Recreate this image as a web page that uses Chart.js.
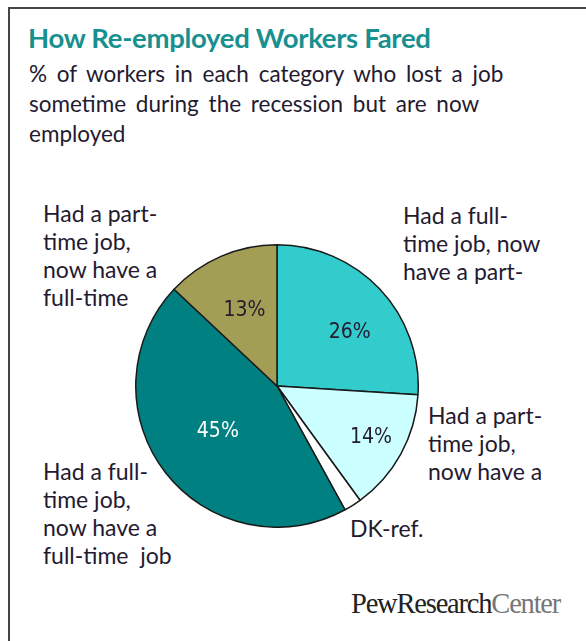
<!DOCTYPE html>
<html>
<head>
<meta charset="utf-8">
<script src="https://cdn.jsdelivr.net/npm/chart.js@4"></script>
<style>
  html, body { margin: 0; padding: 0; background: #fff; }
  body { width: 586px; height: 641px; position: relative; overflow: hidden;
         font-family: Lato, "Open Sans", sans-serif; color: #241a30; }
  .frame { position: absolute; left: 8px; top: 7px; width: 600px; height: 660px;
           border-left: 2px solid #444; border-top: 2px solid #444; }
  .title { position: absolute; left: 28px; top: 21px; font-size: 27.5px; font-weight: bold;
           color: #17908f; letter-spacing: -0.3px; }
  .subtitle { position: absolute; left: 29px; top: 59px; font-size: 22.5px;
              line-height: 30px; word-spacing: 4px; white-space: nowrap; }
  .lbl { position: absolute; font-size: 23px; line-height: 28px; white-space: pre; }
  .logo { position: absolute; left: 351px; top: 588px; font-family: "Liberation Serif", "DejaVu Serif", serif;
          font-size: 28.5px; letter-spacing: -1.2px; color: #222; }
  .logo span { color: #777; }
  #pie { position: absolute; left: 135px; top: 244px; }
</style>
</head>
<body>
<div class="frame"></div>
<div class="title">How Re-employed Workers Fared</div>
<div class="subtitle">% of workers in each category who lost a job<br>sometime during the recession but are now<br>employed</div>
<div id="labels"></div>
<div class="logo">PewResearch<span>Center</span></div>
<canvas id="pie" width="284" height="284"></canvas>

<script>
// categories clockwise from 12 o'clock
const categories = [
    'Had a full-\ntime job, now\nhave a part-',
    'Had a part-\ntime job,\nnow have a',
    'DK-ref.',
    'Had a full-\ntime job,\nnow have a\nfull-time  job',
    'Had a part-\ntime job,\nnow have a\nfull-time'
];
const shares = [26, 14, 2, 45, 13];
const showValue = [true, true, false, true, true];

const SLICE_COLORS = ['#33cccc', '#ccffff', '#ffffff', '#008080', '#a39e55'];
const VALUE_COLORS = ['#241a30', '#241a30', '#241a30', '#ffffff', '#241a30'];
const VALUE_RADIUS = [0.64, 0.76, 0.5, 0.53, 0.58];   // fraction of radius
const VALUE_TURN = [0.12, 0, 0, 0, 0];                  // extra angle, radians
const LABEL_POS = [[403, 201], [428, 401], [350, 514], [43, 457], [43, 199]];

// category labels around the pie
const holder = document.getElementById('labels');
categories.forEach((text, i) => {
    const d = document.createElement('div');
    d.className = 'lbl';
    d.style.left = LABEL_POS[i][0] + 'px';
    d.style.top = LABEL_POS[i][1] + 'px';
    d.textContent = text;
    holder.appendChild(d);
});

// percentages inside the slices
const valueLabels = {
    id: 'valueLabels',
    afterDatasetsDraw(chart) {
        const ctx = chart.ctx;
        const meta = chart.getDatasetMeta(0);
        ctx.save();
        ctx.font = '21px "Liberation Sans Narrow", "DejaVu Sans Condensed", sans-serif';
        ctx.textAlign = 'center';
        ctx.textBaseline = 'middle';
        meta.data.forEach((arc, i) => {
            if (!showValue[i]) return;
            const p = arc.getProps(['x', 'y', 'startAngle', 'endAngle', 'outerRadius'], true);
            const mid = (p.startAngle + p.endAngle) / 2 + VALUE_TURN[i];
            const r = p.outerRadius * VALUE_RADIUS[i];
            ctx.fillStyle = VALUE_COLORS[i];
            ctx.fillText(shares[i] + '%', p.x + Math.cos(mid) * r, p.y + Math.sin(mid) * r);
        });
        ctx.restore();
    }
};

new Chart(document.getElementById('pie'), {
    type: 'pie',
    data: {
        labels: categories,
        datasets: [{
            data: shares,
            backgroundColor: SLICE_COLORS,
            borderColor: '#1a1a1a',
            borderWidth: 1.5,
        }]
    },
    options: {
        responsive: false,
        animation: false,
        rotation: 0,
        layout: { padding: 0 },
        plugins: { legend: { display: false }, tooltip: { enabled: false } }
    },
    plugins: [valueLabels]
});
</script>
</body>
</html>
